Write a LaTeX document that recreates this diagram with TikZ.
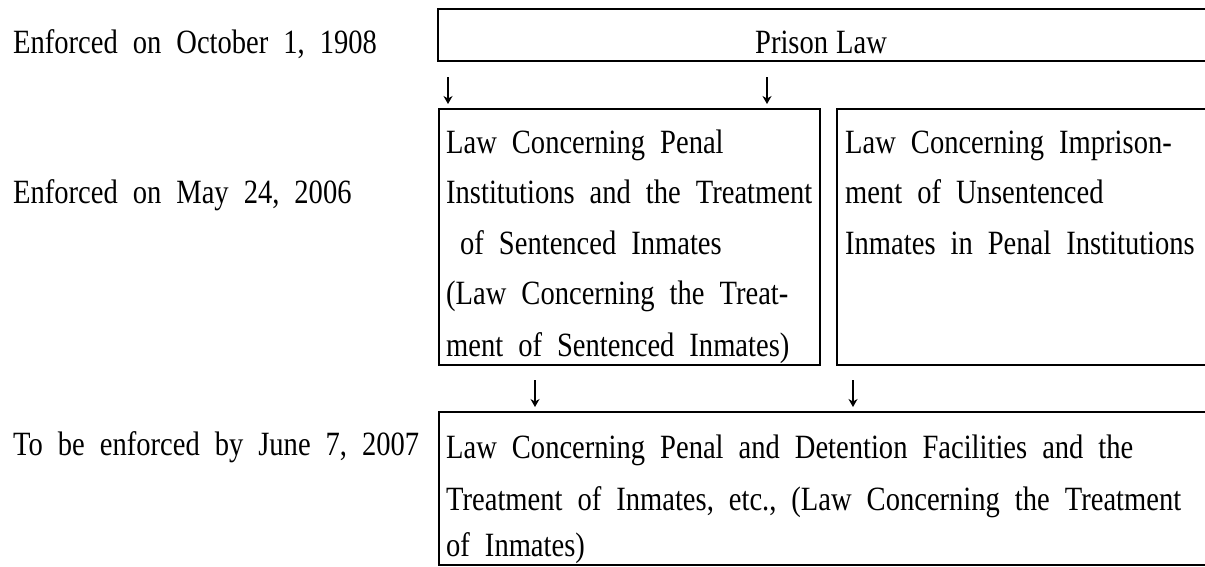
\documentclass[tikz,border=0pt]{standalone}
\usepackage{fontspec}
\setmainfont{Liberation Serif}
\newfontfamily\tf[FakeStretch=0.84,WordSpace={2.1,0,0}]{Liberation Serif}
\usetikzlibrary{arrows.meta}
\begin{document}
\begin{tikzpicture}[x=1pt,y=-1pt,
  box/.style={draw,line width=1.8pt,anchor=north west,inner sep=0pt,outer sep=0pt},
  txt/.style={anchor=base west,inner sep=0pt,font=\tf\fontsize{34}{51}\selectfont},
  arr/.style={line width=1.1pt,-{Stealth[length=8pt,width=9pt,inset=2.5pt]}}]
\useasboundingbox (0,0) rectangle (1205,566);
\clip (0,0) rectangle (1205,566);
% left labels
\node[txt] (l1) at (13,53) {Enforced on October 1, 1908};
\node[txt] (l2) at (13,203) {Enforced on May 24, 2006};
\node[txt] (l3) at (13,455) {To be enforced by June 7, 2007};
% boxes
\node[box,minimum width=768pt,minimum height=52pt] (prison) at (438,9) {};
\node[box,minimum width=381pt,minimum height=256pt] (penal) at (439,109) {};
\node[box,minimum width=370pt,minimum height=256pt] (unsent) at (837,109) {};
\node[box,minimum width=768pt,minimum height=153pt] (inmates) at (439,412) {};
% box texts
\node[anchor=base,inner sep=0pt,font=\tf\fontsize{34}{51}\selectfont] (pt) at (821,53) {Prison\kern8pt Law};
\node[txt] (a1) at (446,153) {Law Concerning Penal};
\node[txt] (a2) at (446,203) {Institutions and the Treatment};
\node[txt] (a3) at (460,254) {of Sentenced Inmates};
\node[txt] (a4) at (446,304) {(Law Concerning the Treat-};
\node[txt] (a5) at (446,356) {ment of Sentenced Inmates)};
\node[txt] (b1) at (845,153) {Law Concerning Imprison-};
\node[txt] (b2) at (845,203) {ment of Unsentenced};
\node[txt] (b3) at (845,254) {Inmates in Penal Institutions};
\node[txt] (c1) at (446,458) {Law Concerning Penal and Detention Facilities and the};
\node[txt] (c2) at (446,510) {Treatment of Inmates, etc., (Law Concerning the Treatment};
\node[txt] (c3) at (446,556) {of Inmates)};
% arrows
\coordinate (s1) at (448,77);  \coordinate (e1) at (448,104);
\coordinate (s2) at (767,77);  \coordinate (e2) at (767,104);
\coordinate (s3) at (535,380); \coordinate (e3) at (535,407);
\coordinate (s4) at (853,380); \coordinate (e4) at (853,407);
\draw[arr] (s1) -- (e1);
\draw[arr] (s2) -- (e2);
\draw[arr] (s3) -- (e3);
\draw[arr] (s4) -- (e4);
\end{tikzpicture}
\end{document}
